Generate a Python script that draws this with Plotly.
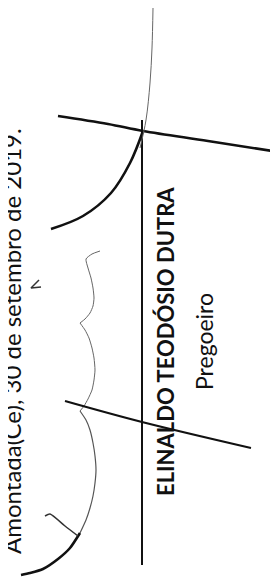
import plotly.graph_objects as go

# Text content
date_text = "Amontada(Ce), 30 de setembro de 2019."
name_text = "ELINALDO TEODÓSIO DUTRA"
role_text = "Pregoeiro"

# Signature rule line (vertical)
rule_x = [134, 134]
rule_y = [112, 557]

# Signature strokes (image pixel coordinates)
stroke_top_x = [50, 100, 135, 200, 277]
stroke_top_y = [108, 116, 123, 133, 145]

arc_thick_x = [43, 75, 103, 122, 135]
arc_thick_y = [221, 208, 185, 155, 123]

arc_thin_x = [132, 138, 142, 144, 145]
arc_thin_y = [140, 112, 75, 40, 0]

brace1_x = [92, 84, 78, 80, 83, 85, 86, 85, 82, 77, 72]
brace1_y = [243, 246, 251, 260, 270, 280, 290, 298, 305, 311, 315]

brace2_x = [72, 77, 81, 84, 86, 87, 86, 84, 80, 76, 72]
brace2_y = [315, 322, 330, 340, 350, 362, 372, 382, 391, 398, 403]

brace3_x = [72, 78, 82, 85, 87, 88, 87, 85, 82, 78, 72]
brace3_y = [403, 412, 422, 435, 448, 462, 475, 488, 500, 512, 525]

brace_end_x = [72, 62, 50, 35, 22, 13]
brace_end_y = [525, 540, 551, 561, 565, 567]

tick_x = [37, 42, 57, 70]
tick_y = [508, 506, 518, 528]

cross_x = [57, 134, 243]
cross_y = [393, 414, 440]

mark_x = [31, 23, 33]
mark_y = [272, 280, 279]

fig = go.Figure()

def stroke(xs, ys, color, width, smooth=0.6):
    fig.add_trace(go.Scatter(x=xs, y=ys, mode="lines",
                             line=dict(color=color, width=width, shape="spline", smoothing=smooth),
                             hoverinfo="skip", showlegend=False))

stroke(rule_x, rule_y, "#111111", 2)
stroke(stroke_top_x, stroke_top_y, "#111111", 2.6, 1)
stroke(arc_thick_x, arc_thick_y, "#111111", 2.6, 1)
stroke(arc_thin_x, arc_thin_y, "#666666", 1, 1)
stroke(brace1_x, brace1_y, "#666666", 1)
stroke(brace2_x, brace2_y, "#666666", 1)
stroke(brace3_x, brace3_y, "#555555", 1.2)
stroke(brace_end_x, brace_end_y, "#111111", 2.6)
stroke(tick_x, tick_y, "#333333", 1.5)
stroke(cross_x, cross_y, "#111111", 2.2, 1)
stroke(mark_x, mark_y, "#333333", 1.5, 0)

fig.add_annotation(x=4, y=333, xref="x", yref="y", xshift=-1, text=date_text, textangle=-90,
                   showarrow=False, xanchor="center", yanchor="middle",
                   font=dict(family="Lato", size=24, color="#111111"))
fig.add_annotation(x=157, y=334, xref="x", yref="y", text="<b>" + name_text + "</b>", textangle=-90,
                   showarrow=False, xanchor="center", yanchor="middle",
                   font=dict(family="Lato", size=22, color="#111111"))
fig.add_annotation(x=196, y=334, xref="x", yref="y", text=role_text, textangle=-90,
                   showarrow=False, xanchor="center", yanchor="middle",
                   font=dict(family="Lato", size=23, color="#111111"))

fig.update_layout(width=278, height=577, margin=dict(l=0, r=0, t=0, b=0),
                  paper_bgcolor="white", plot_bgcolor="white",
                  xaxis=dict(range=[0, 278], visible=False, fixedrange=True),
                  yaxis=dict(range=[577, 0], visible=False, fixedrange=True))

fig.write_html("out.html")
